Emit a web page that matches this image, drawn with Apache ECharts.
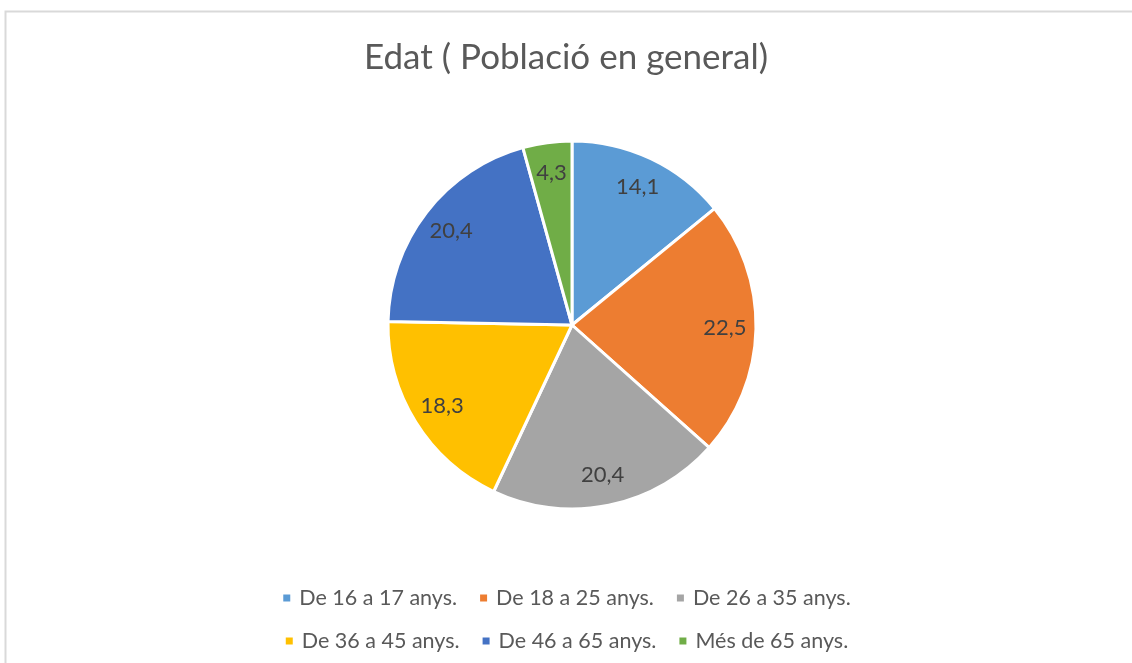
<!DOCTYPE html>
<html>
<head>
<meta charset="utf-8">
<title>Edat</title>
<script src="https://cdn.jsdelivr.net/npm/echarts@6/dist/echarts.min.js"></script>
<style>
  html, body { margin: 0; padding: 0; background: #ffffff; }
  #main { width: 1132px; height: 663px; }
</style>
</head>
<body>
<div id="main"></div>
<script>
var categories = ["De 16 a 17 anys.", "De 18 a 25 anys.", "De 26 a 35 anys.",
                  "De 36 a 45 anys.", "De 46 a 65 anys.", "Més de 65 anys."];
var values = [14.1, 22.5, 20.4, 18.3, 20.4, 4.3];
var colors = ["#5B9BD5", "#ED7D31", "#A5A5A5", "#FFC000", "#4472C4", "#70AD47"];

var font = "Lato, 'Open Sans', sans-serif";

var pieData = categories.map(function (name, i) {
  return { name: name, value: values[i] };
});

var chart = echarts.init(document.getElementById("main"));

chart.setOption({
  backgroundColor: "#ffffff",
  color: colors,
  animation: false,
  title: {
    text: "Edat ( Població en general)",
    left: "center",
    top: 35,
    textStyle: { fontFamily: font, fontSize: 35, fontWeight: "normal", color: "#595959" }
  },
  graphic: [{
    type: "rect",
    shape: { x: 5.5, y: 11.5, width: 1300, height: 800 },
    style: { fill: "none", stroke: "#d9d9d9", lineWidth: 2 },
    silent: true
  }],
  legend: [
    {
      data: categories.slice(0, 3),
      top: 582,
      left: "center",
      icon: "rect",
      itemWidth: 9,
      itemHeight: 9,
      itemGap: 21,
      textStyle: { fontFamily: font, fontSize: 21.5, color: "#595959", padding: [0, 0, 0, 3] }
    },
    {
      data: categories.slice(3),
      top: 625,
      left: "center",
      icon: "rect",
      itemWidth: 9,
      itemHeight: 9,
      itemGap: 21,
      textStyle: { fontFamily: font, fontSize: 21.5, color: "#595959", padding: [0, 0, 0, 3] }
    }
  ],
  series: [
    {
      type: "pie",
      center: [572, 325],
      radius: [0, 184],
      startAngle: 90,
      clockwise: true,
      data: pieData,
      itemStyle: { borderColor: "#ffffff", borderWidth: 3 },
      label: { show: false },
      labelLine: { show: false },
      emphasis: { disabled: true }
    },
    {
      // transparent ring used only to place the value labels at ~0.8 r
      type: "pie",
      center: [572, 325],
      radius: [116, 184],
      startAngle: 90,
      clockwise: true,
      data: pieData,
      silent: true,
      itemStyle: { color: "rgba(0,0,0,0)" },
      label: {
        show: true,
        position: "inside",
        formatter: function (p) { return String(p.value).replace(".", ","); },
        fontFamily: font,
        fontSize: 22,
        color: "#404040"
      },
      labelLine: { show: false },
      emphasis: { disabled: true }
    }
  ]
});
</script>
</body>
</html>
